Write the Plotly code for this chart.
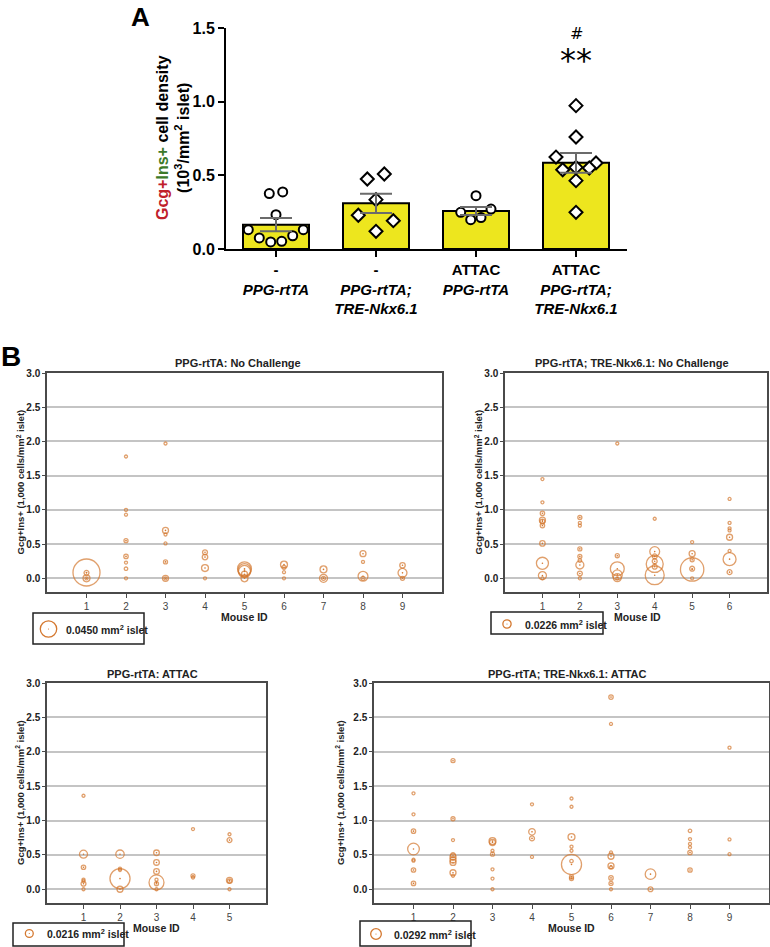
import plotly.graph_objects as go

W, H = 770, 947
FONT = "Liberation Sans, Arial, sans-serif"
ORANGE = "#D4782F"
YELLOW = "#EDE61E"

# ---------- panel A data ----------
groups = [0, 1, 2, 3]
group_labels = ["<b>-</b><br><b><i>PPG-rtTA</i></b>",
                "<b>-</b><br><b><i>PPG-rtTA;</i></b><br><b><i>TRE-Nkx6.1</i></b>",
                "<b>ATTAC</b><br><b><i>PPG-rtTA</i></b>",
                "<b>ATTAC</b><br><b><i>PPG-rtTA;</i></b><br><b><i>TRE-Nkx6.1</i></b>"]
group_mean = [0.165, 0.31, 0.258, 0.585]
group_sem = [0.045, 0.065, 0.027, 0.067]

# individual mice (value, horizontal jitter)
g1_vals = [0.376, 0.387, 0.233, 0.131, 0.075, 0.048, 0.052, 0.090, 0.131]
g1_jit = [-0.067, 0.067, 0.0, -0.277, -0.167, -0.053, 0.057, 0.167, 0.273]
g2_vals = [0.475, 0.509, 0.335, 0.229, 0.192, 0.120]
g2_jit = [-0.087, 0.083, 0.0, -0.177, 0.173, 0.0]
g3_vals = [0.362, 0.249, 0.271, 0.199, 0.213]
g3_jit = [0.0, -0.153, 0.15, -0.053, 0.05]
g4_vals = [0.973, 0.760, 0.624, 0.584, 0.538, 0.554, 0.550, 0.464, 0.249]
g4_jit = [0.0, 0.0, -0.2, 0.2, -0.133, 0.0, 0.133, 0.0, 0.0]

# ---------- panel B data: (mouse id, Gcg+Ins+ density, islet area mm2) ----------
b1_mouse = [1, 1, 1, 1,
            2, 2, 2, 2, 2, 2, 2, 2,
            3, 3, 3, 3, 3, 3, 3,
            4, 4, 4, 4,
            5, 5, 5, 5, 5,
            6, 6, 6, 6,
            7, 7, 7,
            8, 8, 8, 8,
            9, 9, 9]
b1_density = [0.085, 0.08, 0.0, 0.0,
              1.78, 1.0, 0.93, 0.55, 0.32, 0.23, 0.14, 0.0,
              1.97, 0.70, 0.64, 0.51, 0.24, 0.0, 0.0,
              0.38, 0.31, 0.15, 0.0,
              0.14, 0.12, 0.10, 0.06, 0.0,
              0.20, 0.16, 0.09, 0.0,
              0.13, 0.0, 0.0,
              0.36, 0.24, 0.03, 0.0,
              0.19, 0.08, 0.0]
b1_area = [0.074, 0.0135, 0.019, 0.0055,
           0.004, 0.004, 0.004, 0.011, 0.012, 0.0055, 0.0095, 0.007,
           0.004, 0.0165, 0.0055, 0.0055, 0.011, 0.0165, 0.008,
           0.0135, 0.015, 0.019, 0.0055,
           0.038, 0.0355, 0.033, 0.0165, 0.019,
           0.019, 0.011, 0.008, 0.0055,
           0.019, 0.022, 0.011,
           0.0165, 0.008, 0.027, 0.011,
           0.015, 0.0245, 0.011]

b2_mouse = [1] * 10 + [2] * 9 + [3] * 6 + [4] * 7 + [5] * 6 + [6] * 8
b2_density = [1.45, 1.11, 0.95, 0.85, 0.83, 0.77, 0.51, 0.22, 0.04, 0.0,
              0.89, 0.81, 0.77, 0.43, 0.32, 0.26, 0.195, 0.07, 0.0,
              1.97, 0.33, 0.14, 0.05, 0.01, 0.0,
              0.87, 0.39, 0.32, 0.25, 0.21, 0.17, 0.045,
              0.53, 0.36, 0.27, 0.14, 0.13, 0.0,
              1.16, 0.81, 0.73, 0.70, 0.60, 0.40, 0.28, 0.09]
b2_area = [0.008, 0.0055, 0.012, 0.0165, 0.0135, 0.012, 0.015, 0.033, 0.022, 0.0055,
           0.011, 0.008, 0.008, 0.011, 0.011, 0.0095, 0.022, 0.0135, 0.0055,
           0.004, 0.011, 0.038, 0.027, 0.022, 0.004,
           0.008, 0.027, 0.0135, 0.0135, 0.0465, 0.0135, 0.052,
           0.008, 0.0165, 0.011, 0.0135, 0.064, 0.0055,
           0.008, 0.008, 0.0055, 0.0055, 0.0165, 0.008, 0.0355, 0.0135]

b3_mouse = [1] * 7 + [2] * 5 + [3] * 7 + [4] * 3 + [5] * 5
b3_density = [1.36, 0.51, 0.32, 0.14, 0.12, 0.08, 0.0,
              0.51, 0.30, 0.28, 0.155, 0.0,
              0.53, 0.39, 0.26, 0.14, 0.10, 0.08, 0.0,
              0.875, 0.195, 0.17,
              0.80, 0.715, 0.13, 0.12, 0.0]
b3_area = [0.004, 0.022, 0.012, 0.007, 0.008, 0.0135, 0.007,
           0.023, 0.008, 0.0055, 0.055, 0.0165,
           0.0155, 0.0155, 0.0155, 0.008, 0.041, 0.011, 0.004,
           0.004, 0.011, 0.007,
           0.004, 0.0135, 0.0165, 0.011, 0.007]

b4_mouse = [1] * 8 + [2] * 9 + [3] * 7 + [4] * 4 + [5] * 9 + [6] * 9 + [7] * 2 + [8] * 6 + [9] * 3
b4_density = [1.395, 1.09, 0.845, 0.585, 0.43, 0.415, 0.28, 0.085,
              1.87, 1.025, 0.715, 0.495, 0.47, 0.425, 0.39, 0.24, 0.195,
              0.70, 0.68, 0.56, 0.51, 0.29, 0.155, 0.0,
              1.235, 0.835, 0.74, 0.47,
              1.32, 1.2, 0.76, 0.62, 0.56, 0.41, 0.36, 0.18, 0.155,
              2.795, 2.405, 0.535, 0.48, 0.34, 0.32, 0.165, 0.085, 0.0,
              0.22, 0.0,
              0.85, 0.73, 0.66, 0.61, 0.535, 0.28,
              2.06, 0.725, 0.51]
b4_area = [0.008, 0.008, 0.012, 0.032, 0.007, 0.007, 0.012, 0.012,
           0.011, 0.011, 0.0055, 0.0135, 0.0165, 0.0165, 0.0165, 0.0165, 0.008,
           0.019, 0.0165, 0.008, 0.011, 0.008, 0.007, 0.004,
           0.004, 0.018, 0.0135, 0.008,
           0.004, 0.007, 0.019, 0.008, 0.008, 0.0095, 0.055, 0.011, 0.011,
           0.012, 0.007, 0.008, 0.0165, 0.0165, 0.008, 0.012, 0.011, 0.008,
           0.029, 0.0135,
           0.0095, 0.008, 0.007, 0.0055, 0.012, 0.012,
           0.004, 0.007, 0.0055]

b_titles = ["PPG-rtTA: No Challenge", "PPG-rtTA; TRE-Nkx6.1: No Challenge",
            "PPG-rtTA: ATTAC", "PPG-rtTA; TRE-Nkx6.1: ATTAC"]
b_legend_area = ["0.0450", "0.0226", "0.0216", "0.0292"]
b_n_mice = [9, 6, 5, 9]

PX_PER_MM2 = 365  # bubble diameter scale


def px(x):
    # page pixel -> paper fraction
    return x / W


def py(y):
    return 1 - y / H


fig = go.Figure()

# ---------- panel A ----------
fig.add_trace(go.Bar(x=groups, y=group_mean, width=0.66,
                     marker=dict(color=YELLOW, line=dict(color="black", width=2)),
                     xaxis="x", yaxis="y", showlegend=False))

for vals, jit, g, sym in [(g1_vals, g1_jit, 0, "circle"), (g2_vals, g2_jit, 1, "diamond"),
                          (g3_vals, g3_jit, 2, "circle"), (g4_vals, g4_jit, 3, "diamond")]:
    fig.add_trace(go.Scatter(x=[g + j for j in jit], y=vals, mode="markers",
                             marker=dict(symbol=sym, size=9 if sym == "circle" else 10,
                                         color="white", line=dict(color="black", width=2)),
                             xaxis="x", yaxis="y", showlegend=False, cliponaxis=False))

# error bars drawn on top of the points
fig.add_trace(go.Scatter(x=groups, y=group_mean, mode="markers",
                         marker=dict(size=1, color="rgba(0,0,0,0)"),
                         error_y=dict(type="data", array=group_sem, color="#6b6b6b",
                                      thickness=2, width=16),
                         xaxis="x", yaxis="y", showlegend=False))

# ---------- panel B ----------
b_data = [(b1_mouse, b1_density, b1_area), (b2_mouse, b2_density, b2_area),
          (b3_mouse, b3_density, b3_area), (b4_mouse, b4_density, b4_area)]
for i, (m, d, a) in enumerate(b_data):
    ax = str(i + 2)
    fig.add_trace(go.Scatter(x=m, y=d, mode="markers",
                             marker=dict(size=a, sizemode="diameter", sizeref=1 / PX_PER_MM2,
                                         sizemin=1.5, color="rgba(0,0,0,0)",
                                         line=dict(color=ORANGE, width=1.3)),
                             xaxis="x" + ax, yaxis="y" + ax, showlegend=False))
    cm = [mm for mm, aa in zip(m, a) if aa * PX_PER_MM2 >= 3.5]
    cd = [dd for dd, aa in zip(d, a) if aa * PX_PER_MM2 >= 3.5]
    fig.add_trace(go.Scatter(x=cm, y=cd, mode="markers",
                             marker=dict(size=1.6, color=ORANGE, line=dict(width=0)),
                             xaxis="x" + ax, yaxis="y" + ax, showlegend=False))

layout = dict(
    width=W, height=H, margin=dict(l=0, r=0, t=0, b=0, autoexpand=False),
    paper_bgcolor="white", plot_bgcolor="white",
    font=dict(family=FONT, color="black"),
    xaxis=dict(domain=[px(226), px(627)], range=[-0.5, 3.51], anchor="y", automargin=False,
               showline=True, linecolor="black", linewidth=2, showgrid=False, zeroline=False,
               ticks="outside", ticklen=6, tickwidth=2, tickcolor="black",
               tickvals=groups, ticktext=group_labels, tickfont=dict(size=15, family=FONT)),
    yaxis=dict(domain=[py(249), py(28)], range=[0, 1.5], anchor="x", automargin=False,
               showline=True, linecolor="black", linewidth=2, showgrid=False, zeroline=False,
               ticks="outside", ticklen=6, tickwidth=2, tickcolor="black",
               tickvals=[0, 0.5, 1.0, 1.5], ticktext=["<b>0.0</b>", "<b>0.5</b>", "<b>1.0</b>", "<b>1.5</b>"],
               tickfont=dict(size=16, family=FONT)),
)

# plot-area boxes in page pixels: left, right, top, bottom
b_boxes = [(47, 442, 373, 592), (505, 767, 373, 592), (47, 266, 683, 903), (374, 769, 683, 903)]
for i, (l, r, t, b) in enumerate(b_boxes):
    ax = str(i + 2)
    n = b_n_mice[i]
    layout["xaxis" + ax] = dict(domain=[px(l), px(r)], range=[0, n + 1], anchor="y" + ax,
                                automargin=False,
                                showline=True, mirror=True, linecolor="#4a4a4a", linewidth=1.5,
                                showgrid=False, zeroline=False, ticks="outside", ticklen=4,
                                tickcolor="#4a4a4a", tickvals=list(range(1, n + 1)),
                                tickfont=dict(size=10, color="#444444"))
    layout["yaxis" + ax] = dict(domain=[py(b), py(t)], range=[-0.2, 3.0], anchor="x" + ax,
                                automargin=False,
                                showline=True, mirror=True, linecolor="#4a4a4a", linewidth=1.5,
                                showgrid=True, gridcolor="#c4c4c4", gridwidth=1.5, zeroline=False,
                                ticks="outside", ticklen=3, tickcolor="#4a4a4a",
                                tickvals=[0, 0.5, 1.0, 1.5, 2.0, 2.5, 3.0],
                                ticktext=["<b>%.1f</b>" % v for v in [0, 0.5, 1.0, 1.5, 2.0, 2.5, 3.0]],
                                tickfont=dict(size=10, color="#222222"))

fig.update_layout(**layout)

ann = []
shapes = []
ann.append(dict(x=px(140), y=py(17), text="<b>A</b>", font=dict(size=26, family=FONT)))
ann.append(dict(x=px(11), y=py(356), text="<b>B</b>", font=dict(size=28, family=FONT)))
ann.append(dict(x=px(173), y=py(138), textangle=-90,
                text="<b><span style='color:#C0202A'>Gcg+</span><span style='color:#3C7A2A'>Ins+</span>"
                     " cell density<br>(10<sup>3</sup>/mm<sup>2</sup> islet)</b>",
                font=dict(size=16, family=FONT)))
ann.append(dict(x=3, y=1.465, xref="x", yref="y", text="#", font=dict(size=16, family="DejaVu Sans")))
ann.append(dict(x=3, y=1.285, xref="x", yref="y", text="**", font=dict(size=32, family="DejaVu Sans")))

b_titles_pos = [(238, 363), (632, 363), (152, 674), (567, 674)]
b_ytitle_x = [20, 478, 20, 340]
b_mouse_pos = [(244, 617), (637, 617), (156, 928), (571, 928)]
b_leg_box = [(33, 144, 613, 644), (491, 603, 612, 634), (13, 124, 923, 946), (360, 471, 921, 946)]
b_leg_circle = [(48.5, 629), (507, 624), (29.3, 933.5), (376, 934)]
b_leg_text = [64, 523, 45, 392]
for i in range(4):
    l, r, t, b = b_boxes[i]
    ann.append(dict(x=px(b_titles_pos[i][0]), y=py(b_titles_pos[i][1]), text="<b>%s</b>" % b_titles[i],
                    font=dict(size=11, family=FONT, color="#222222")))
    ann.append(dict(x=px(b_ytitle_x[i]), y=py((t + b) / 2), textangle=-90,
                    text="<b>Gcg+Ins+ (1,000 cells/mm<sup>2</sup> islet)</b>",
                    font=dict(size=9.5, family=FONT, color="#222222")))
    ann.append(dict(x=px(b_mouse_pos[i][0]), y=py(b_mouse_pos[i][1]), text="<b>Mouse ID</b>",
                    font=dict(size=10.5, family=FONT, color="#222222")))
    bl, br, bt, bb = b_leg_box[i]
    shapes.append(dict(type="rect", xref="paper", yref="paper", x0=px(bl), x1=px(br),
                       y0=py(bb), y1=py(bt), line=dict(color="#222222", width=1.5)))
    cx, cy = b_leg_circle[i]
    rr = float(b_legend_area[i]) * PX_PER_MM2 / 2
    shapes.append(dict(type="circle", xref="paper", yref="paper", x0=px(cx - rr), x1=px(cx + rr),
                       y0=py(cy + rr), y1=py(cy - rr), line=dict(color=ORANGE, width=1.3)))
    shapes.append(dict(type="circle", xref="paper", yref="paper", x0=px(cx - 0.6), x1=px(cx + 0.6),
                       y0=py(cy + 0.6), y1=py(cy - 0.6), fillcolor=ORANGE, line=dict(width=0)))
    ann.append(dict(x=px(b_leg_text[i]), y=py(cy), xanchor="left",
                    text="<b>%s mm<sup>2</sup> islet</b>" % b_legend_area[i],
                    font=dict(size=10.5, family=FONT, color="#222222")))

for a in ann:
    a.setdefault("xref", "paper")
    a.setdefault("yref", "paper")
    a.setdefault("xanchor", "center")
    a.setdefault("yanchor", "middle")
    a.setdefault("showarrow", False)
fig.update_layout(annotations=ann, shapes=shapes)

# drop the default page margin so the figure fills the window
fig.write_html("out.html", config={"displayModeBar": False},
               post_script="document.body.style.margin='0px';")
